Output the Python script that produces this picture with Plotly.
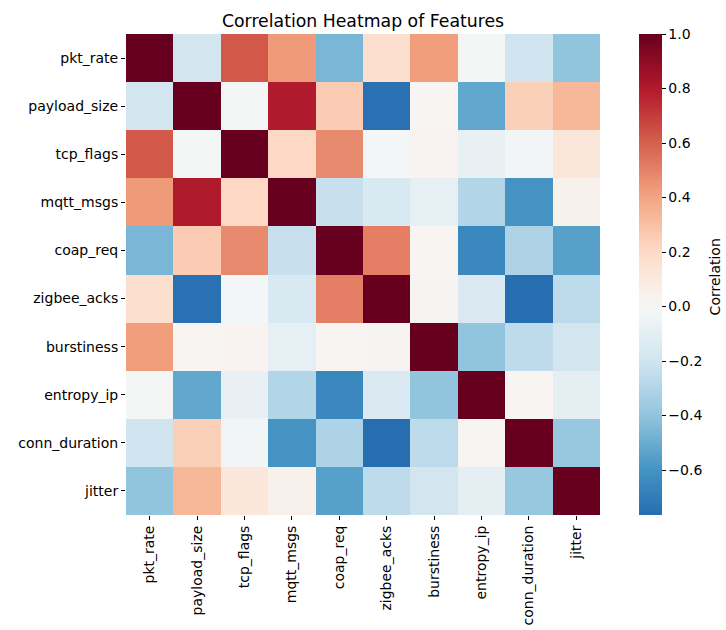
import plotly.graph_objects as go
import numpy as np

features = ["pkt_rate", "payload_size", "tcp_flags", "mqtt_msgs", "coap_req",
            "zigbee_acks", "burstiness", "entropy_ip", "conn_duration", "jitter"]

# upper triangle values (row i, columns i+1..)
upper = {
    "pkt_rate":      [-0.19, 0.62, 0.43, -0.46, 0.17, 0.42, -0.01, -0.20, -0.40],
    "payload_size":  [-0.01, 0.80, 0.26, -0.75, 0.02, -0.52, 0.24, 0.33],
    "tcp_flags":     [0.21, 0.48, -0.02, 0.03, -0.08, -0.03, 0.12],
    "mqtt_msgs":     [-0.23, -0.16, -0.09, -0.30, -0.60, 0.05],
    "coap_req":      [0.51, 0.02, -0.65, -0.31, -0.55],
    "zigbee_acks":   [0.01, -0.15, -0.765, -0.26],
    "burstiness":    [-0.40, -0.26, -0.19],
    "entropy_ip":    [0.02, -0.10],
    "conn_duration": [-0.38],
}

n = len(features)
corr = np.eye(n)
for i, f in enumerate(features[:-1]):
    for k, v in enumerate(upper[f]):
        j = i + 1 + k
        corr[i, j] = v
        corr[j, i] = v

vmin = float(corr.min())
vmax = 1.0

# RdBu_r anchors on [-1, 1], cropped to [vmin, vmax] (seaborn center=0)
anchors = ["#053061", "#2166ac", "#4393c3", "#92c5de", "#d1e5f0", "#f7f7f7",
           "#fddbc7", "#f4a582", "#d6604d", "#b2182b", "#67001f"]
apos = np.linspace(-1, 1, len(anchors))
argb = np.array([[int(h[i:i + 2], 16) for i in (1, 3, 5)] for h in anchors], float)

def col_at(v):
    return [np.interp(v, apos, argb[:, c]) for c in range(3)]

colorscale = []
for t in np.linspace(0, 1, 41):
    v = vmin + t * (vmax - vmin)
    r, g, b = col_at(v)
    colorscale.append([float(t), f"rgb({r:.0f},{g:.0f},{b:.0f})"])

fig = go.Figure(go.Heatmap(
    z=corr, x=features, y=features,
    zmin=vmin, zmax=vmax,
    colorscale=colorscale,
    colorbar=dict(
        thickness=23, len=1, lenmode="fraction", y=0.5, yanchor="middle",
        x=1.083, xanchor="left", xpad=0, ypad=0, outlinewidth=0,
        tickvals=[-0.6, -0.4, -0.2, 0.0, 0.2, 0.4, 0.6, 0.8, 1.0],
        ticktext=["\u22120.6", "\u22120.4", "\u22120.2", "0.0", "0.2", "0.4", "0.6", "0.8", "1.0"],
        ticks="outside", ticklen=4, tickcolor="#000",
        tickfont=dict(family="DejaVu Sans", size=14, color="#000"),
    ),
    hovertemplate="%{y} / %{x}: %{z:.2f}<extra></extra>",
))

fig.add_annotation(text="Correlation", textangle=-90, xref="paper", yref="paper",
                   x=(715 - 126) / 474, y=0.494, xanchor="center", yanchor="middle",
                   showarrow=False,
                   font=dict(family="DejaVu Sans", size=14, color="#000"))

fig.update_layout(
    width=726, height=630,
    margin=dict(l=126, r=126, t=34, b=115, autoexpand=False),
    paper_bgcolor="white", plot_bgcolor="white",
    title=dict(text="Correlation Heatmap of Features", x=0.5, xanchor="center",
               xref="paper", y=1 - 20.5 / 630, yanchor="middle",
               font=dict(family="DejaVu Sans", size=17.3, color="#000")),
    font=dict(family="DejaVu Sans", size=14, color="#000"),
)
fig.update_xaxes(tickangle=-90, ticks="outside", ticklen=4, tickcolor="#000",
                 showgrid=False, zeroline=False, showline=False, automargin=False,
                 tickfont=dict(family="DejaVu Sans", size=14, color="#000"))
fig.update_yaxes(autorange="reversed", ticks="outside", ticklen=4, tickcolor="#000",
                 showgrid=False, zeroline=False, showline=False, automargin=False,
                 tickfont=dict(family="DejaVu Sans", size=14, color="#000"))

fig.write_html("out.html", config={"displayModeBar": False},
               post_script="document.body.style.margin='0';document.body.style.overflow='hidden';")
